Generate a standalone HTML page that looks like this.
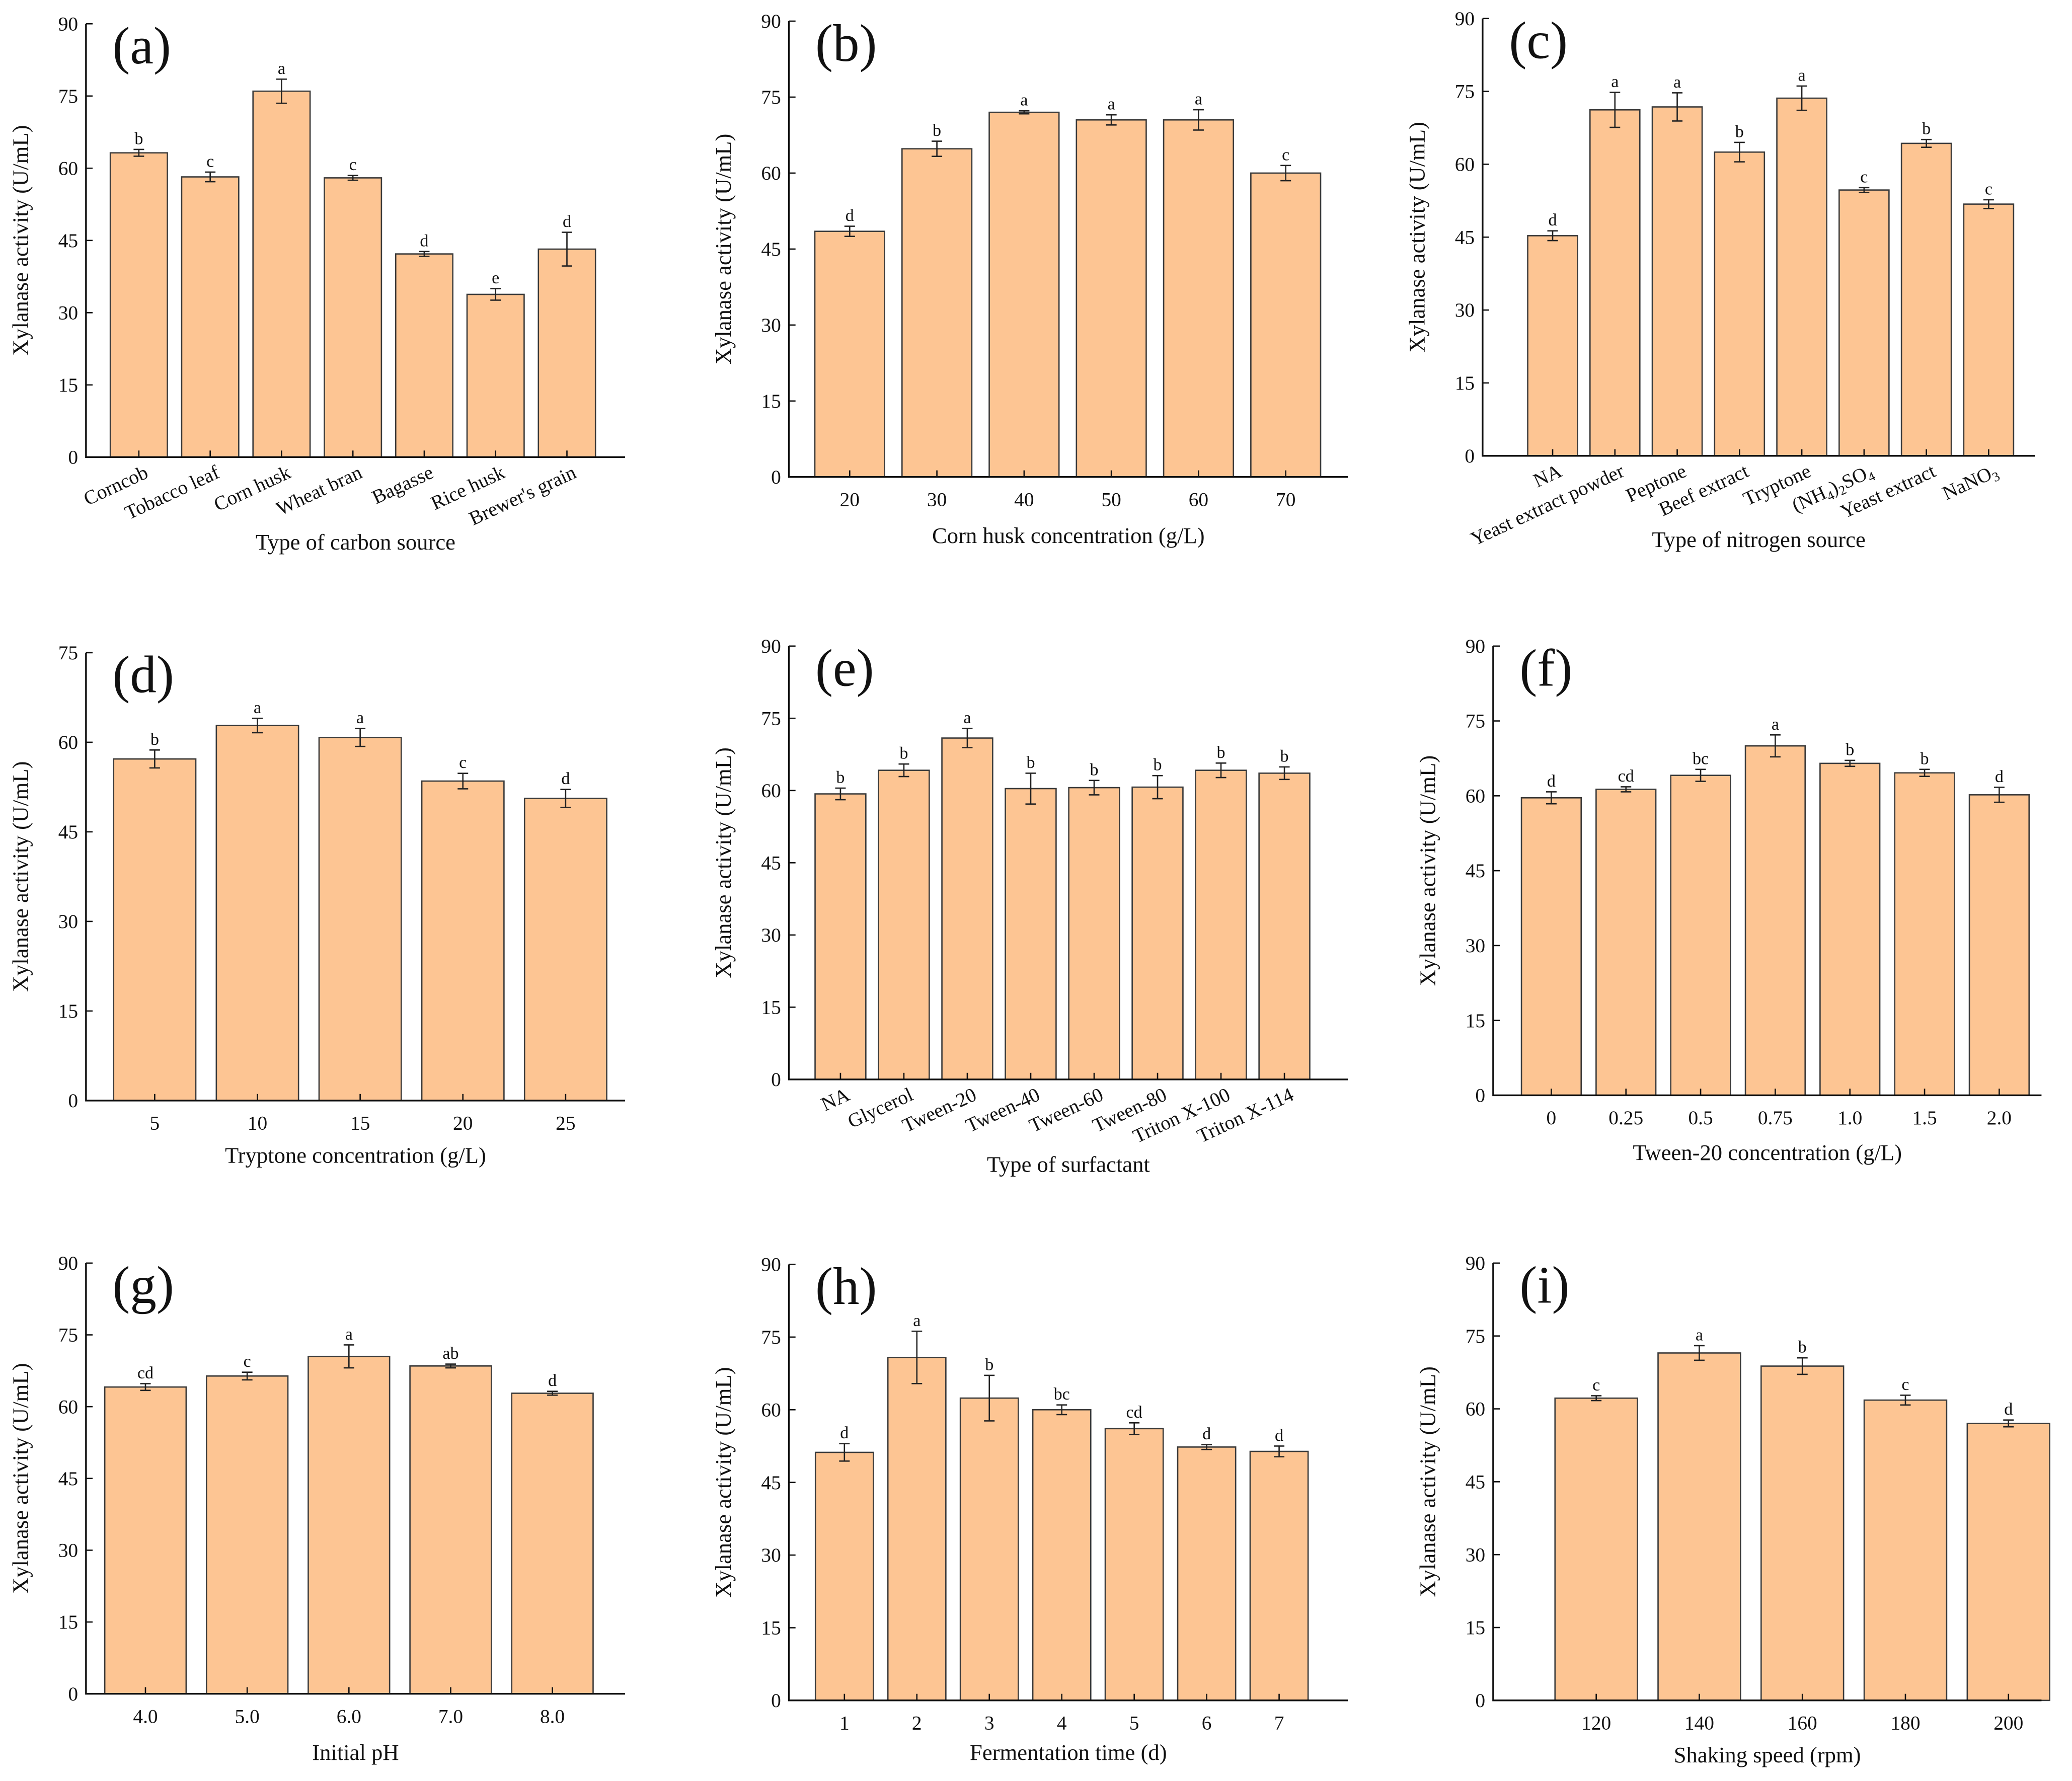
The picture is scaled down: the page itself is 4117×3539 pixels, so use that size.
<!DOCTYPE html>
<html><head><meta charset="utf-8"><style>
html,body{margin:0;padding:0;background:#fff;}
svg{display:block;font-family:"Liberation Serif",serif;}
</style></head><body>
<svg id="fig" width="4117" height="3539" viewBox="0 0 1568 1348" xmlns="http://www.w3.org/2000/svg"></svg>
<script>
// ---- data ----
const catsA=["Corncob","Tobacco leaf","Corn husk","Wheat bran","Bagasse","Rice husk","Brewer's grain"];
const valsA=[63.2,58.2,76,58,42.2,33.8,43.2];
const errsA=[0.7,1,2.5,0.5,0.5,1.2,3.5];
const letA=["b","c","a","c","d","e","d"];
const catsB=["20","30","40","50","60","70"];
const valsB=[48.5,64.8,72,70.5,70.5,60];
const errsB=[1,1.5,0.3,1,2,1.5];
const letB=["d","b","a","a","a","c"];
const catsC=["NA","Yeast extract powder","Peptone","Beef extract","Tryptone","(NH4)2SO4","Yeast extract","NaNO3"];
const valsC=[45.3,71.2,71.8,62.5,73.6,54.7,64.3,51.8];
const errsC=[1,3.6,2.9,2,2.5,0.5,0.8,0.9];
const letC=["d","a","a","b","a","c","b","c"];
const catsD=["5","10","15","20","25"];
const valsD=[57.2,62.8,60.8,53.5,50.6];
const errsD=[1.5,1.2,1.5,1.3,1.5];
const letD=["b","a","a","c","d"];
const catsE=["NA","Glycerol","Tween-20","Tween-40","Tween-60","Tween-80","Triton X-100","Triton X-114"];
const valsE=[59.3,64.2,70.9,60.4,60.6,60.7,64.2,63.6];
const errsE=[1.2,1.3,2,3.2,1.5,2.4,1.5,1.3];
const letE=["b","b","a","b","b","b","b","b"];
const catsF=["0","0.25","0.5","0.75","1.0","1.5","2.0"];
const valsF=[59.6,61.3,64.1,70,66.5,64.6,60.2];
const errsF=[1.2,0.5,1.2,2.2,0.6,0.7,1.5];
const letF=["d","cd","bc","a","b","b","d"];
const catsG=["4.0","5.0","6.0","7.0","8.0"];
const valsG=[64.1,66.4,70.5,68.5,62.8];
const errsG=[0.7,0.8,2.4,0.4,0.4];
const letG=["cd","c","a","ab","d"];
const catsH=["1","2","3","4","5","6","7"];
const valsH=[51.2,70.8,62.4,60,56.1,52.3,51.4];
const errsH=[1.8,5.4,4.7,1,1.2,0.5,1.1];
const letH=["d","a","b","bc","cd","d","d"];
const catsI=["120","140","160","180","200"];
const valsI=[62.2,71.5,68.8,61.8,57];
const errsI=[0.5,1.5,1.7,1,0.7];
const letI=["c","a","b","c","d"];
const ticks90=[0,15,30,45,60,75,90];
const ticks75=[0,15,30,45,60,75];

const NS="http://www.w3.org/2000/svg";
const svg=document.getElementById('fig');
function mk(tag,attrs,parent,text){const e=document.createElementNS(NS,tag);for(const k in attrs)e.setAttribute(k,attrs[k]);if(text!==undefined)e.textContent=text;(parent||svg).appendChild(e);return e;}

function panel(p){
  const g=mk('g',{});
  
  
  const ymax=p.ticks[p.ticks.length-1];
  const Y=v=>p.y0-(p.y0-p.ytop)*v/ymax;
  const n=p.cats.length;
  const step=(p.xl-p.xf)/(n-1);
  const X=i=>p.xf+i*step;
  const bw=step*0.8;
  p.vals.forEach((v,i)=>{
    const r=mk('rect',{x:X(i)-bw/2,y:Y(v),width:bw,height:p.y0-Y(v),fill:'#FDC593',stroke:'#3a3a3a','stroke-width':1},g);
    
    
    const e=p.errs[i];
    const eb=mk('path',{d:`M${X(i)} ${Y(v+e)}V${Y(v-e)}M${X(i)-4} ${Y(v+e)}H${X(i)+4}M${X(i)-4} ${Y(v-e)}H${X(i)+4}`,stroke:'#222','stroke-width':1,fill:'none'},g);
    
    
    const t=mk('text',{x:X(i),y:Y(v+e)-4,'font-size':13,'text-anchor':'middle',fill:'#111'},g,p.lets[i]);
    
    
    mk('line',{x1:X(i),x2:X(i),y1:p.y0,y2:p.y0-5,stroke:'#111','stroke-width':1},g);
    let lab;
    if(p.rot){
      lab=mk('text',{x:X(i)+8,y:p.y0+15,'font-size':15,'text-anchor':'end',transform:`rotate(-25 ${X(i)+8} ${p.y0+15})`,fill:'#111'},g);
    } else {
      lab=mk('text',{x:X(i),y:p.y0+22,'font-size':15,'text-anchor':'middle',fill:'#111'},g);
    }
    const c=p.cats[i];
    if(c==="(NH4)2SO4"){lab.innerHTML='(NH<tspan font-size="10" dy="3">4</tspan><tspan dy="-3">)</tspan><tspan font-size="10" dy="3">2</tspan><tspan dy="-3">SO</tspan><tspan font-size="10" dy="3">4</tspan>';}
    else if(c==="NaNO3"){lab.innerHTML='NaNO<tspan font-size="10" dy="3">3</tspan>';}
    else lab.textContent=c;
    
    
  });
  const ax=mk('path',{d:`M${p.ax} ${p.ytop}V${p.y0}H${p.xr}`,stroke:'#111','stroke-width':1.3,fill:'none'},g);
  
  
  p.ticks.forEach(t=>{
    mk('line',{x1:p.ax,x2:p.ax+5,y1:Y(t),y2:Y(t),stroke:'#111','stroke-width':1},g);
    const tl=mk('text',{x:p.ax-6,y:Y(t)+5,'font-size':15,'text-anchor':'end',fill:'#111'},g,String(t));
    
    
  });
  const yt=mk('text',{x:p.ax-44,y:(p.ytop+p.y0)/2,'font-size':17,'text-anchor':'middle',transform:`rotate(-90 ${p.ax-44} ${(p.ytop+p.y0)/2})`,fill:'#111'},g,'Xylanase activity (U/mL)');
  
  
  const xt=mk('text',{x:(p.ax+p.xr)/2,y:p.xty,'font-size':17,'text-anchor':'middle',fill:'#111'},g,p.xtitle);
  
  
  const pl=mk('text',{x:p.ax+20,y:p.ytop+30,'font-size':40,fill:'#111'},g,'('+p.id+')');
  
  
}
panel({id:'a',cats:catsA,vals:valsA,errs:errsA,lets:letA,ticks:ticks90,ax:65,ytop:18,y0:346,xr:473,xf:105,xl:429,rot:true,xtitle:'Type of carbon source',xty:416});
panel({id:'b',cats:catsB,vals:valsB,errs:errsB,lets:letB,ticks:ticks90,ax:597,ytop:16,y0:361,xr:1020,xf:643,xl:973,rot:false,xtitle:'Corn husk concentration (g/L)',xty:411});
panel({id:'c',cats:catsC,vals:valsC,errs:errsC,lets:letC,ticks:ticks90,ax:1122,ytop:14,y0:345,xr:1540,xf:1175,xl:1505,rot:true,xtitle:'Type of nitrogen source',xty:414});
panel({id:'d',cats:catsD,vals:valsD,errs:errsD,lets:letD,ticks:ticks75,ax:65,ytop:494,y0:833,xr:473,xf:117,xl:428,rot:false,xtitle:'Tryptone concentration (g/L)',xty:880});
panel({id:'e',cats:catsE,vals:valsE,errs:errsE,lets:letE,ticks:ticks90,ax:597,ytop:489,y0:817,xr:1020,xf:636,xl:972,rot:true,xtitle:'Type of surfactant',xty:887});
panel({id:'f',cats:catsF,vals:valsF,errs:errsF,lets:letF,ticks:ticks90,ax:1130,ytop:489,y0:829,xr:1545,xf:1174,xl:1513,rot:false,xtitle:'Tween-20 concentration (g/L)',xty:878});
panel({id:'g',cats:catsG,vals:valsG,errs:errsG,lets:letG,ticks:ticks90,ax:65,ytop:956,y0:1282,xr:473,xf:110,xl:418,rot:false,xtitle:'Initial pH',xty:1332});
panel({id:'h',cats:catsH,vals:valsH,errs:errsH,lets:letH,ticks:ticks90,ax:597,ytop:957,y0:1287,xr:1020,xf:639,xl:968,rot:false,xtitle:'Fermentation time (d)',xty:1332});
panel({id:'i',cats:catsI,vals:valsI,errs:errsI,lets:letI,ticks:ticks90,ax:1130,ytop:956,y0:1287,xr:1545,xf:1208,xl:1520,rot:false,xtitle:'Shaking speed (rpm)',xty:1334});
</script>
</body></html>
